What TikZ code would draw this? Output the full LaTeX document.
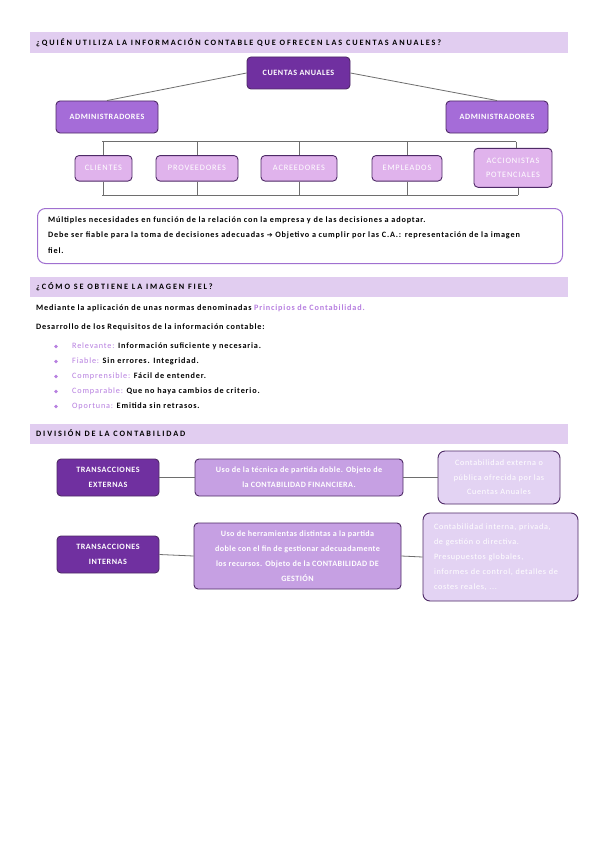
\documentclass[tikz,border=0pt]{standalone}
\usepackage{fontspec}
\setmainfont{Carlito}
\newfontfamily\hdrfont[LetterSpace=23]{Carlito}
\newfontfamily\capfont[LetterSpace=10]{Carlito}
\newfontfamily\capbfont[LetterSpace=7]{Carlito}
\newfontfamily\smfont[LetterSpace=8]{Carlito}
\newfontfamily\smbfont[LetterSpace=5]{Carlito}
\newfontfamily\bodyfont[LetterSpace=10]{Carlito}
\definecolor{dpurple}{HTML}{7030A0}
\definecolor{mpurple}{HTML}{A56CD8}
\definecolor{lpink}{HTML}{E0B3EC}
\definecolor{upurple}{HTML}{C6A0E3}
\definecolor{rpurple}{HTML}{E3D3F3}
\definecolor{hdrbg}{HTML}{E1CDF0}
\definecolor{bordc}{HTML}{4E2A66}
\definecolor{accent}{HTML}{B77FE0}
\definecolor{outl}{HTML}{A070D0}
\definecolor{linec}{HTML}{6E6E6E}
\begin{document}
\begin{tikzpicture}[x=1pt,y=-1pt,
  rbox/.style={draw=bordc, line width=0.9pt, rounded corners=4pt, align=center, inner sep=1pt},
  darkbox/.style={rbox, fill=dpurple, text=white},
  midbox/.style={rbox, fill=mpurple, text=white},
  pinkbox/.style={rbox, fill=lpink, text=white},
  usobox/.style={rbox, fill=upurple, text=white},
  sidebox/.style={rbox, fill=rpurple, text=white, rounded corners=7pt},
  conn/.style={draw=linec, line width=0.8pt},
  hdr/.style={anchor=west, inner sep=0pt, font=\hdrfont\bfseries\fontsize{8.2}{9}\selectfont},
  body/.style={anchor=west, inner sep=0pt, font=\bodyfont\bfseries\fontsize{8.2}{9}\selectfont},
  caps/.style={font=\capfont\fontsize{8.3}{13.5}\selectfont},
  capsb/.style={font=\capbfont\bfseries\fontsize{8.1}{15}\selectfont},
  small/.style={font=\smfont\fontsize{8.2}{15}\selectfont},
  smallb/.style={font=\smbfont\bfseries\fontsize{8.1}{15}\selectfont}
]
\useasboundingbox (0,0) rectangle (599,848);
\fill[white] (0,0) rectangle (599,848);

% ---------- Section 1 ----------
\fill[hdrbg] (30,32) rectangle (568,53);
\node[hdr] (h1) at (36,43) {¿QUIÉN UTILIZA LA INFORMACIÓN CONTABLE QUE OFRECEN LAS CUENTAS ANUALES?};

\node[darkbox, capsb, minimum width=103, minimum height=32] (ca) at (298.5,73) {CUENTAS ANUALES};
\node[midbox, capsb, minimum width=102, minimum height=32] (adm1) at (107,117) {ADMINISTRADORES};
\node[midbox, capsb, minimum width=102, minimum height=32] (adm2) at (497,117) {ADMINISTRADORES};
\draw[conn] (ca.west) -- (adm1.north);
\draw[conn] (ca.east) -- (adm2.north);

\node[pinkbox, caps, minimum width=57, minimum height=25.5] (cli) at (103.5,168.3) {CLIENTES};
\node[pinkbox, caps, minimum width=82, minimum height=25.5] (pro) at (197,168.3) {PROVEEDORES};
\node[pinkbox, caps, minimum width=76, minimum height=25.5] (acr) at (299,168.3) {ACREEDORES};
\node[pinkbox, caps, minimum width=70, minimum height=25.5] (emp) at (407,168.3) {EMPLEADOS};
\node[pinkbox, caps, minimum width=78, minimum height=39] (acc) at (513,167.8) {ACCIONISTAS\\POTENCIALES};

\coordinate (tl) at (102,141.5);
\coordinate (tr) at (516,141.5);
\coordinate (bl) at (102,195);
\coordinate (br) at (518,195);
\draw[conn] (tl) -- (tr);
\draw[conn] (bl) -- (br);
\draw[conn] (cli.north) -- (cli.north |- tl);
\draw[conn] (pro.north) -- (pro.north |- tl);
\draw[conn] (acr.north) -- (acr.north |- tl);
\draw[conn] (emp.north) -- (emp.north |- tl);
\draw[conn] (tr) -- (tr |- acc.north);
\draw[conn] (cli.south) -- (cli.south |- bl);
\draw[conn] (pro.south) -- (pro.south |- bl);
\draw[conn] (acr.south) -- (acr.south |- bl);
\draw[conn] (emp.south) -- (emp.south |- bl);
\draw[conn] (br) -- (br |- acc.south);

\node[draw=outl, line width=1pt, rounded corners=8pt, minimum width=525, minimum height=55, anchor=north west] (nb) at (37,208) {};
\node[body, anchor=north west, align=left, font=\bodyfont\bfseries\fontsize{8.2}{15.5}\selectfont] (nbt) at (48,216.5)
 {Múltiples necesidades en función de la relación con la empresa y de las decisiones a adoptar.\\
  Debe ser fiable para la toma de decisiones adecuadas {\fontspec{DejaVu Sans}\fontsize{7}{9}\selectfont ➔} Objetivo a cumplir por las C.A.: representación de la imagen\\
  fiel.};

% ---------- Section 2 ----------
\fill[hdrbg] (30,277) rectangle (568,296.5);
\node[hdr] (h2) at (36,286.5) {¿CÓMO SE OBTIENE LA IMAGEN FIEL?};
\node[body] (m1) at (36,308.5) {Mediante la aplicación de unas normas denominadas \textcolor{accent}{Principios de Contabilidad.}};
\node[body] (m2) at (36,327.5) {Desarrollo de los Requisitos de la información contable:};
\foreach \yy in {346.5,361.5,376.5,391.5,406.5} \fill[accent] (56,\yy) circle (1.9);
\node[body] (b1) at (72,346.5) {\textcolor{accent}{\mdseries Relevante:} Información suficiente y necesaria.};
\node[body] (b2) at (72,361.5) {\textcolor{accent}{\mdseries Fiable:} Sin errores. Integridad.};
\node[body] (b3) at (72,376.5) {\textcolor{accent}{\mdseries Comprensible:}  Fácil de entender.};
\node[body] (b4) at (72,391.5) {\textcolor{accent}{\mdseries Comparable:} Que no haya cambios de criterio.};
\node[body] (b5) at (72,406.5) {\textcolor{accent}{\mdseries Oportuna:} Emitida sin retrasos.};

% ---------- Section 3 ----------
\fill[hdrbg] (30,424) rectangle (568,443.5);
\node[hdr] (h3) at (36,433.5) {DIVISIÓN DE LA CONTABILIDAD};

\node[darkbox, capsb, minimum width=102, minimum height=37] (te) at (108,477.5) {TRANSACCIONES\\EXTERNAS};
\node[usobox, smallb, minimum width=208, minimum height=37] (u1) at (299,477.5) {Uso de la técnica de partida doble. Objeto de\\la CONTABILIDAD FINANCIERA.};
\node[sidebox, small, font=\smfont\fontsize{8.2}{14.5}\selectfont, minimum width=122, minimum height=53] (s1) at (499,477.5) {Contabilidad externa o\\pública ofrecida por las\\Cuentas Anuales};
\draw[conn] (te.east) -- (u1.west);
\draw[conn] (u1.east) -- (s1.west);

\node[darkbox, capsb, minimum width=102, minimum height=37] (ti) at (108,554.5) {TRANSACCIONES\\INTERNAS};
\node[usobox, smallb, minimum width=207, minimum height=66] (u2) at (297.5,556) {Uso de herramientas distintas a la partida\\doble con el fin de gestionar adecuadamente\\los recursos. Objeto de la CONTABILIDAD DE\\GESTIÓN};
\node[sidebox, small, align=left, minimum width=155, minimum height=88, text width=133, inner xsep=11pt] (s2) at (500.5,557) {Contabilidad interna, privada,\\de gestión o directiva.\\Presupuestos globales,\\informes de control, detalles de\\costes reales, ...};
\draw[conn] (ti.east) -- (u2.west);
\draw[conn] (u2.east) -- (s2.west);
\end{tikzpicture}
\end{document}
